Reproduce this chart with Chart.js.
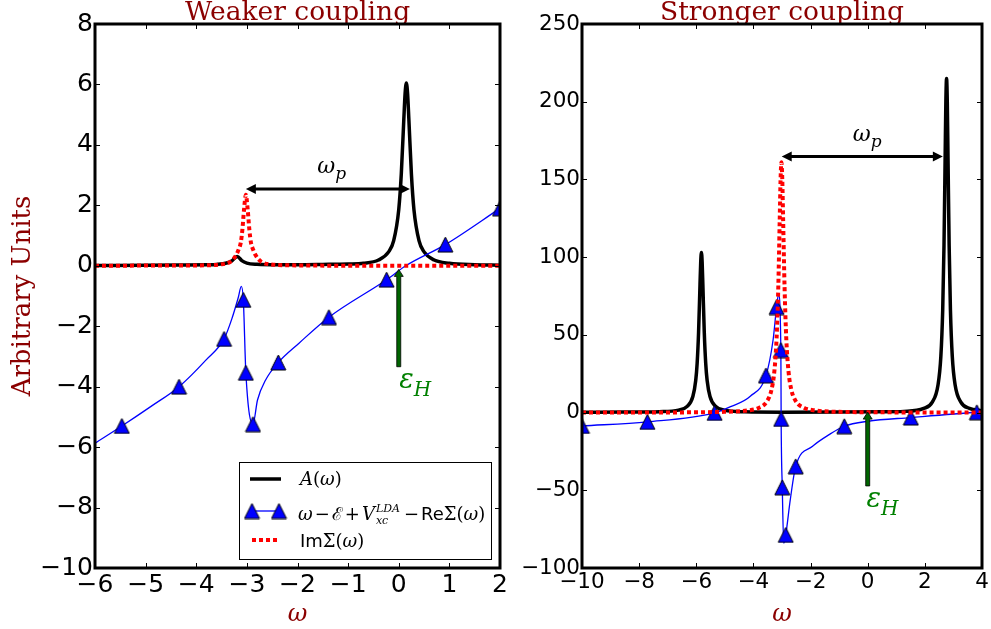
<!DOCTYPE html>
<html>
<head>
<meta charset="utf-8">
<script src="https://cdn.jsdelivr.net/npm/chart.js@4.4.1/dist/chart.umd.min.js"></script>
<style>
  body { margin: 0; background: #fff; }
  #wrap { position: relative; width: 991px; height: 629px; overflow: hidden; }
  #wrap canvas { position: absolute; left: 0; top: 0; }
  .lg { position: absolute; font-family: "DejaVu Serif", serif; font-size: 18px; line-height: 18px; white-space: nowrap; color: #000; }
  .lg i { font-style: italic; }
  .op { margin: 0 2px; }
  .sf { font-family: "DejaVu Sans", sans-serif; }
  .ss { display: inline-block; font-size: 11px; font-style: italic; line-height: 12px; vertical-align: -4px; margin: 0 2px 0 1px; }
  .ss span { display: block; }
</style>
</head>
<body>
<div id="wrap">
  <canvas id="weak" width="991" height="629"></canvas>
  <canvas id="strong" width="991" height="629"></canvas>
  <div class="lg" style="left:300px;top:470px"><i>A</i>(<i>ω</i>)</div>
  <div class="lg" style="left:298px;top:503px"><i>ω</i><span class="op">−</span>ℰ<span class="op">+</span><i>V</i><span class="ss"><span>LDA</span><span>xc</span></span><span class="op">−</span><span class="sf">Re</span>Σ(<i>ω</i>)</div>
  <div class="lg" style="left:300px;top:532px"><span class="sf">Im</span>Σ(<i>ω</i>)</div>
</div>
<script>
// ---- Weaker coupling ----
const weakTicksX = [-6, -5, -4, -3, -2, -1, 0, 1, 2];
const weakTicksY = [-10, -8, -6, -4, -2, 0, 2, 4, 6, 8];

const weakAOmega = [-6, -5, -4.3, -3.8, -3.6, -3.4, -3.3, -3.19, -3.1, -3.0, -2.8, -2.4, -2, -1.5, -1, -0.7, -0.4, -0.2, -0.1, 0,
  0.05, 0.1, 0.125, 0.15, 0.175, 0.2, 0.25, 0.3, 0.4, 0.5, 0.7, 1, 1.5, 2];
const weakA = [0.01, 0.015, 0.025, 0.035, 0.045, 0.09, 0.16, 0.31, 0.17, 0.09, 0.05, 0.035, 0.035, 0.045, 0.06, 0.083, 0.19, 0.46, 0.83, 1.86,
  3.03, 4.84, 5.69, 6.05, 5.69, 4.84, 3.03, 1.86, 0.83, 0.46, 0.19, 0.083, 0.035, 0.02];

const weakImOmega = [-6, -5, -4.5, -4, -3.52, -3.32, -3.22, -3.16, -3.12, -3.09, -3.055, -3.02, -2.985, -2.95, -2.92, -2.88, -2.82, -2.72, -2.52, -2, -1, 0, 1, 2];
const weakIm = [0.003, 0.006, 0.008, 0.012, 0.045, 0.14, 0.33, 0.55, 0.77, 1.175, 1.88, 2.35, 1.88, 1.175, 0.77, 0.55, 0.33, 0.14, 0.045, 0.012, 0.003, 0.001, 0, 0];

const weakReOmega = [-6, -5.47, -4.9, -4.34, -3.81, -3.45, -3.29, -3.17, -3.11, -3.07, -3.02, -2.88, -2.79, -2.63, -2.38, -1.97, -1.38, -0.24, 0.14, 0.92, 2];
const weakRe = [-5.87, -5.3, -4.66, -4.0, -3.12, -2.42, -1.72, -1.05, -0.68, -1.13, -3.54, -5.24, -4.44, -3.78, -3.2, -2.56, -1.7, -0.46, 0, 0.7, 1.9];

const weakMarkOmega = [-5.47, -4.34, -3.45, -3.07, -3.02, -2.88, -2.38, -1.38, -0.24, 0.92, 2];
const weakMark = [-5.3, -4.0, -2.42, -1.13, -3.54, -5.24, -3.2, -1.7, -0.46, 0.7, 1.9];

// ---- Stronger coupling ----
const strongTicksX = [-10, -8, -6, -4, -2, 0, 2, 4];
const strongTicksY = [-100, -50, 0, 50, 100, 150, 200, 250];

const strongAOmega = [-10, -8.5, -7.3, -6.62, -6.32, -6.12, -6.02, -5.97, -5.92, -5.87, -5.845, -5.82, -5.795, -5.77, -5.72, -5.67, -5.62, -5.52, -5.32, -5.02,
  -4.3, -3, -1, 0.5, 1.26, 1.96, 2.26, 2.46, 2.56, 2.625, 2.67, 2.71, 2.735, 2.76, 2.785, 2.81, 2.85, 2.895, 2.96, 3.06, 3.26, 3.56, 4];
const strongA = [0.2, 0.3, 0.6, 1.58, 3.96, 10.3, 20.6, 31.7, 51.5, 82.4, 96.9, 103, 96.9, 82.4, 51.5, 31.7, 20.6, 10.3, 3.96, 1.58,
  0.5, 0.25, 0.3, 0.5, 0.77, 2.69, 6.75, 17.75, 36.2, 66.2, 107.5, 164.3, 200, 215, 200, 164.3, 107.5, 66.2, 36.2, 17.75, 6.75, 2.69, 1.13];

const strongImOmega = [-10, -7, -5, -4.22, -3.82, -3.52, -3.37, -3.27, -3.19, -3.13, -3.08, -3.05, -3.02, -2.99, -2.96, -2.91, -2.85, -2.77, -2.67, -2.52, -2.22, -1.82, -1, 1, 4];
const strongIm = [0.04, 0.1, 0.5, 1.34, 2.99, 7.43, 14.5, 26.1, 47.5, 80.5, 124, 149.9, 161, 149.9, 124, 80.5, 47.5, 26.1, 14.5, 7.43, 2.99, 1.34, 0.48, 0.12, 0.04];

const strongReOmega = [-10, -7.71, -5.36, -4.8, -4.11, -3.56, -3.31, -3.19, -3.12, -3.04, -3.03, -2.99, -2.94, -2.87, -2.71, -2.52, -1.93, -1.35, -0.82, 0, 1.51, 3.82, 4];
const strongRe = [-8.6, -6.0, -0.2, 3.8, 10.5, 23.9, 47, 67.9, 76, 40.2, -4.1, -48.1, -84, -78.7, -56, -34.6, -21.7, -14.2, -8.8, -5.6, -3.2, 0.2, 0.4];

const strongMarkOmega = [-10, -7.71, -5.36, -3.56, -3.19, -3.04, -3.03, -2.99, -2.87, -2.52, -0.82, 1.51, 3.82];
const strongMark = [-8.6, -6.0, -0.2, 23.9, 67.9, 40.2, -4.1, -48.1, -78.7, -34.6, -8.8, -3.2, 0.2];

const darkRed = '#8b0000';
const blue = '#0000ff';

function pts(xs, ys) {
  return xs.map((x, i) => ({ x: x, y: ys[i] }));
}

function minusSign(v) {
  return String(v).replace('-', '\u2212');
}

// matplotlib style '^' marker
function triangleMarker() {
  const c = document.createElement('canvas');
  c.width = 17;
  c.height = 17;
  const g = c.getContext('2d');
  g.beginPath();
  g.moveTo(8.5, 1);
  g.lineTo(16, 16);
  g.lineTo(1, 16);
  g.closePath();
  g.fillStyle = blue;
  g.fill();
  g.lineWidth = 1;
  g.strokeStyle = '#000';
  g.stroke();
  return c;
}
const tri = triangleMarker();

function makeDatasets(aX, aY, imX, imY, reX, reY, mX, mY) {
  return [
    { data: pts(imX, imY), borderColor: '#ff0000', borderWidth: 4, borderDash: [4, 3], pointRadius: 0, cubicInterpolationMode: 'monotone', clip: 0 },
    { data: pts(mX, mY), showLine: false, pointStyle: tri, pointRadius: 8, clip: 0 },
    { data: pts(reX, reY), borderColor: blue, borderWidth: 1.3, pointRadius: 0, cubicInterpolationMode: 'monotone', clip: 0 },
    { data: pts(aX, aY), borderColor: '#000', borderWidth: 3.5, pointRadius: 0, cubicInterpolationMode: 'monotone', clip: 0 }
  ];
}

function upArrow(ctx, px, yTail, yTip) {
  const shaft = 4, headW = 9, headL = 7;
  ctx.beginPath();
  ctx.moveTo(px - shaft / 2, yTail);
  ctx.lineTo(px - shaft / 2, yTip + headL);
  ctx.lineTo(px - headW / 2, yTip + headL);
  ctx.lineTo(px, yTip);
  ctx.lineTo(px + headW / 2, yTip + headL);
  ctx.lineTo(px + shaft / 2, yTip + headL);
  ctx.lineTo(px + shaft / 2, yTail);
  ctx.closePath();
  ctx.fillStyle = '#006400';
  ctx.fill();
  ctx.lineWidth = 0.8;
  ctx.strokeStyle = '#000';
  ctx.stroke();
}

function doubleArrow(ctx, x1, x2, py) {
  const headL = 10, headW = 5;
  ctx.strokeStyle = '#000';
  ctx.fillStyle = '#000';
  ctx.lineWidth = 3;
  ctx.beginPath();
  ctx.moveTo(x1 + headL - 2, py);
  ctx.lineTo(x2 - headL + 2, py);
  ctx.stroke();
  ctx.beginPath();
  ctx.moveTo(x1, py);
  ctx.lineTo(x1 + headL, py - headW);
  ctx.lineTo(x1 + headL, py + headW);
  ctx.closePath();
  ctx.moveTo(x2, py);
  ctx.lineTo(x2 - headL, py - headW);
  ctx.lineTo(x2 - headL, py + headW);
  ctx.closePath();
  ctx.fill();
}

function subText(ctx, px, py, main, sub, mainSize, subSize, drop) {
  ctx.textBaseline = 'alphabetic';
  ctx.textAlign = 'left';
  ctx.font = 'italic ' + mainSize + 'px "DejaVu Serif"';
  ctx.fillText(main, px, py);
  const w = ctx.measureText(main).width;
  ctx.font = 'italic ' + subSize + 'px "DejaVu Serif"';
  ctx.fillText(sub, px + w, py + drop);
}

// frame, inward ticks, arrows and labels
function makeDecor(cfg) {
  return {
    id: 'decor',
    afterDatasetsDraw(chart) {
      const ctx = chart.ctx;
      const a = chart.chartArea;
      const x = chart.scales.x;
      const y = chart.scales.y;
      ctx.save();

      ctx.strokeStyle = '#000';
      ctx.lineWidth = 1;
      ctx.beginPath();
      cfg.ticksX.forEach(v => {
        const p = Math.round(x.getPixelForValue(v)) + 0.5;
        ctx.moveTo(p, a.top); ctx.lineTo(p, a.top + 5);
        ctx.moveTo(p, a.bottom); ctx.lineTo(p, a.bottom - 5);
      });
      cfg.ticksY.forEach(v => {
        const p = Math.round(y.getPixelForValue(v)) + 0.5;
        ctx.moveTo(a.left, p); ctx.lineTo(a.left + 5, p);
        ctx.moveTo(a.right, p); ctx.lineTo(a.right - 5, p);
      });
      ctx.stroke();

      // omega_p
      doubleArrow(ctx, x.getPixelForValue(cfg.wpFrom), x.getPixelForValue(cfg.wpTo), y.getPixelForValue(cfg.wpY));
      ctx.fillStyle = '#000';
      subText(ctx, x.getPixelForValue(cfg.wpLabel[0]), y.getPixelForValue(cfg.wpLabel[1]), 'ω', 'p', 22, 17, 6);

      // epsilon_H
      upArrow(ctx, x.getPixelForValue(cfg.epsX), y.getPixelForValue(cfg.epsTail), y.getPixelForValue(cfg.epsTip));
      ctx.fillStyle = '#008000';
      subText(ctx, x.getPixelForValue(cfg.epsLabel[0]), y.getPixelForValue(cfg.epsLabel[1]), 'ε', 'H', 27, 20, 8);

      ctx.strokeStyle = '#000';
      ctx.lineWidth = 3;
      ctx.strokeRect(a.left, a.top, a.right - a.left, a.bottom - a.top);
      ctx.restore();
    },
    afterDraw(chart) {
      if (!cfg.legend) return;
      const ctx = chart.ctx;
      ctx.save();
      ctx.fillStyle = '#fff';
      ctx.fillRect(239.5, 462.5, 252, 97);
      ctx.strokeStyle = '#000';
      ctx.lineWidth = 1;
      ctx.strokeRect(239.5, 462.5, 252, 97);

      ctx.lineWidth = 3.5;
      ctx.beginPath(); ctx.moveTo(250, 479); ctx.lineTo(281, 479); ctx.stroke();

      ctx.strokeStyle = blue;
      ctx.lineWidth = 1.3;
      ctx.beginPath(); ctx.moveTo(252, 511); ctx.lineTo(279, 511); ctx.stroke();
      ctx.drawImage(tri, 252 - 8.5, 511 - 8.5);
      ctx.drawImage(tri, 279 - 8.5, 511 - 8.5);

      ctx.strokeStyle = '#ff0000';
      ctx.lineWidth = 4;
      ctx.setLineDash([4, 3]);
      ctx.beginPath(); ctx.moveTo(252, 540); ctx.lineTo(277, 540); ctx.stroke();
      ctx.restore();
    }
  };
}

function makeChart(id, cfg) {
  const tickFont = { family: 'DejaVu Sans', size: cfg.tickSize };
  return new Chart(document.getElementById(id), {
    type: 'line',
    data: { datasets: cfg.datasets },
    options: {
      responsive: false,
      animation: false,
      events: [],
      layout: { padding: cfg.padding },
      plugins: {
        legend: { display: false },
        tooltip: { enabled: false },
        title: {
          display: true, text: cfg.title, color: darkRed, fullSize: false, padding: { top: 2, bottom: 0 },
          font: { family: 'DejaVu Serif', size: 26.5, weight: 'normal', lineHeight: 22 / 26.5 }
        }
      },
      scales: {
        x: {
          type: 'linear', min: cfg.ticksX[0], max: cfg.ticksX[cfg.ticksX.length - 1],
          afterBuildTicks: s => { s.ticks = cfg.ticksX.map(v => ({ value: v })); },
          afterFit: s => { s.height = 61; s.paddingLeft = 0; s.paddingRight = 0; },
          grid: { display: false, drawTicks: false },
          border: { display: false },
          ticks: { font: tickFont, color: '#000', padding: 2, maxRotation: 0, autoSkip: false, callback: minusSign },
          title: { display: true, text: 'ω', color: darkRed, padding: { top: 0, bottom: 0 }, font: { family: 'DejaVu Serif', style: 'italic', size: 24 } }
        },
        y: {
          type: 'linear', min: cfg.ticksY[0], max: cfg.ticksY[cfg.ticksY.length - 1],
          afterBuildTicks: s => { s.ticks = cfg.ticksY.map(v => ({ value: v })); },
          afterFit: s => { s.width = cfg.yWidth; s.paddingTop = 0; s.paddingBottom = 0; },
          grid: { display: false, drawTicks: false },
          border: { display: false },
          ticks: { font: tickFont, color: '#000', padding: 2, autoSkip: false, callback: minusSign },
          title: { display: !!cfg.yTitle, text: cfg.yTitle || '', color: darkRed, padding: { top: 8, bottom: 0 }, font: { family: 'DejaVu Serif', size: 26 } }
        }
      }
    },
    plugins: [makeDecor(cfg)]
  });
}

makeChart('weak', {
  title: 'Weaker coupling',
  yTitle: 'Arbitrary Units',
  padding: { left: 0, right: 491, top: 0, bottom: 0 },
  yWidth: 95,
  tickSize: 25,
  ticksX: weakTicksX,
  ticksY: weakTicksY,
  datasets: makeDatasets(weakAOmega, weakA, weakImOmega, weakIm, weakReOmega, weakRe, weakMarkOmega, weakMark),
  wpFrom: -3.02, wpTo: 0.22, wpY: 2.54, wpLabel: [-1.61, 3.07],
  epsX: 0, epsTail: -3.34, epsTip: -0.12, epsLabel: [0.01, -4.04],
  legend: true
});

makeChart('strong', {
  title: 'Stronger coupling',
  padding: { left: 512, right: 3, top: 0, bottom: 0 },
  yWidth: 70,
  tickSize: 21.5,
  ticksX: strongTicksX,
  ticksY: strongTicksY,
  datasets: makeDatasets(strongAOmega, strongA, strongImOmega, strongIm, strongReOmega, strongRe, strongMarkOmega, strongMark),
  wpFrom: -3.01, wpTo: 2.63, wpY: 164.8, wpLabel: [-0.52, 174.5],
  epsX: 0, epsTail: -47.2, epsTip: 0.3, epsLabel: [-0.04, -60.5],
  legend: false
});
</script>
</body>
</html>
